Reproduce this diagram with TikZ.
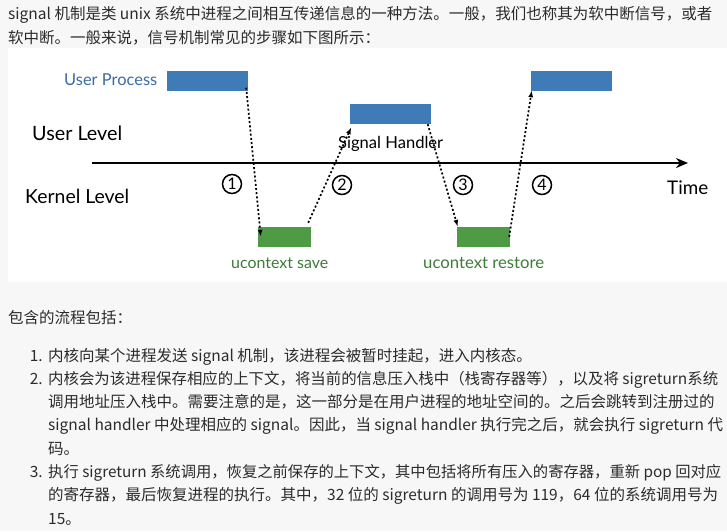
\documentclass[tikz,border=0pt]{standalone}
\usepackage{fontspec}
\setmainfont{Noto Sans CJK SC}
\newfontfamily\labfont{Lato}
\usetikzlibrary{arrows.meta}
\definecolor{pagebg}{HTML}{F7F7F7}
\definecolor{textc}{HTML}{2B2B2B}
\definecolor{boxblue}{HTML}{3F7BB6}
\definecolor{labblue}{HTML}{3B6DA3}
\definecolor{boxgreen}{HTML}{4F9A45}
\definecolor{labgreen}{HTML}{3E7C37}
\newcommand{\fitw}[2]{\resizebox{#1}{!}{#2}}
\tikzset{
  txt/.style={anchor=base west, inner sep=0pt, text=textc, font=\fontsize{15.5}{18}\selectfont},
  num/.style={anchor=base east, inner sep=0pt, text=textc, font=\fontsize{15.5}{18}\selectfont},
  lab/.style={anchor=base west, inner sep=0pt, text=black, font=\labfont\fontsize{20}{24}\selectfont},
  bluebox/.style={fill=boxblue, draw=none, minimum width=81pt, minimum height=20pt, inner sep=0pt},
  greenbox/.style={fill=boxgreen, draw=none, minimum width=53pt, minimum height=20pt, inner sep=0pt},
  stepnum/.style={circle, draw=black, line width=1.5pt, minimum size=19pt, inner sep=0pt, font=\labfont\fontsize{16}{16}\selectfont},
  flow/.style={line width=1.7pt, dash pattern=on 2pt off 2.2pt, -{Latex[length=7pt,width=5pt]}},
  axis/.style={line width=2.4pt, -{Stealth[length=12pt,width=10pt]}}
}
\begin{document}
\begin{tikzpicture}[x=1pt,y=-1pt]
\useasboundingbox (0,0) rectangle (727,531);
\fill[pagebg] (0,0) rectangle (727,531);
\fill[white] (8,48) rectangle (727,282);

% top paragraph
\node[txt] (t1) at (8,19) {signal 机制是类 unix 系统中进程之间相互传递信息的一种方法。一般，我们也称其为软中断信号，或者};
\node[txt] (t2) at (8,43) {软中断。一般来说，信号机制常见的步骤如下图所示：};

% diagram
\node[bluebox] (up) at (207.5,80.5) {};
\node[bluebox] (handler) at (390,114) {};
\node[bluebox] (ret) at (571.5,81) {};
\node[greenbox] (save) at (284.5,237) {};
\node[greenbox] (restore) at (483.5,237) {};

\coordinate (ax0) at (92,163);
\coordinate (ax1) at (688,163);
\draw[axis] (ax0) -- (ax1);

\node[lab, text=labblue] (lup) at (64,85) {\fitw{93pt}{User Process}};
\node[lab] (luser) at (32,140) {\fitw{90pt}{User Level}};
\node[lab] (lkern) at (25,203) {\fitw{104pt}{Kernel Level}};
\node[lab] (ltime) at (667,194) {\fitw{41pt}{Time}};
\node[lab] (lhandler) at (338,148) {\fitw{105pt}{Signal Handler}};
\node[lab, text=labgreen] (lsave) at (231,268) {\fitw{97pt}{ucontext save}};
\node[lab, text=labgreen] (lrestore) at (423,268) {\fitw{121pt}{ucontext restore}};

\node[stepnum] (n1) at (232,184) {1};
\node[stepnum] (n2) at (342,185) {2};
\node[stepnum] (n3) at (463,185) {3};
\node[stepnum] (n4) at (542,185) {4};

\draw[flow] ([xshift=-2pt,yshift=3pt]up.south east) -- ([xshift=3pt,yshift=-10pt]save.north west);
\draw[flow] ([xshift=-3pt,yshift=4pt]save.north east) -- ([xshift=2pt,yshift=-3pt]handler.south west);
\draw[flow] ([xshift=-3pt]handler.south east) -- ([xshift=1pt]restore.north west);
\draw[flow] ([xshift=-1pt,yshift=-10pt]restore.north east) -- ([xshift=1pt,yshift=1pt]ret.south west);

% lower paragraph
\node[txt] (t3) at (8,323) {包含的流程包括：};
\node[num] (m1) at (43,361) {1.};
\node[txt] (i1) at (48,361) {内核向某个进程发送 signal 机制，该进程会被暂时挂起，进入内核态。};
\node[num] (m2) at (43,384.3) {2.};
\node[txt] (i2a) at (48,384.3) {\fitw{670pt}{内核会为该进程保存相应的上下文，将当前的信息压入栈中（栈寄存器等），以及将 sigreturn系统}};
\node[txt] (i2b) at (48,407.6) {调用地址压入栈中。需要注意的是，这一部分是在用户进程的地址空间的。之后会跳转到注册过的};
\node[txt] (i2c) at (48,430.9) {signal handler 中处理相应的 signal。因此，当 signal handler 执行完之后，就会执行 sigreturn 代};
\node[txt] (i2d) at (48,454.2) {码。};
\node[num] (m3) at (43,477.5) {3.};
\node[txt] (i3a) at (48,477.5) {\fitw{673pt}{执行 sigreturn 系统调用，恢复之前保存的上下文，其中包括将所有压入的寄存器，重新 pop 回对应}};
\node[txt] (i3b) at (48,500.8) {的寄存器，最后恢复进程的执行。其中，32 位的 sigreturn 的调用号为 119，64 位的系统调用号为};
\node[txt] (i3c) at (48,524.1) {15。};
\end{tikzpicture}
\end{document}
